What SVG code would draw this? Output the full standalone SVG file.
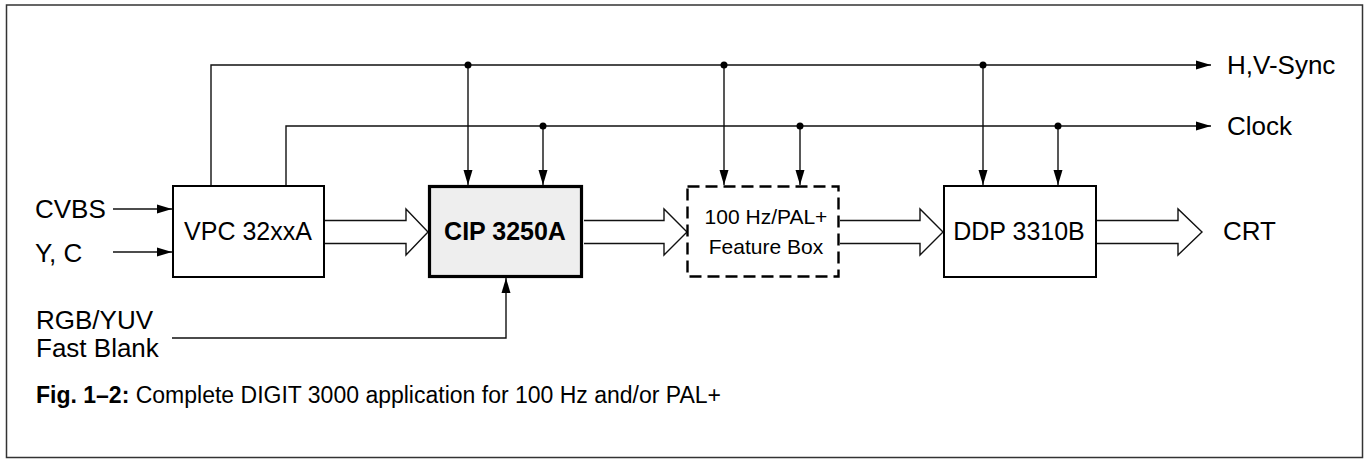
<svg xmlns="http://www.w3.org/2000/svg" width="1371" height="459" viewBox="0 0 1371 459">
<style>
text{font-family:"Liberation Sans",Arial,sans-serif;fill:#000}
.t{font-size:25px}
.l{font-size:26px}
.s{font-size:21px}
.c{font-size:23px}
.box{fill:#fff;stroke:#000;stroke-width:2}
.ln{fill:none;stroke:#111;stroke-width:1.4}
.hol{fill:#fff;stroke:#111;stroke-width:1.4;stroke-linejoin:miter}
.dot{fill:#000}
</style>
<defs>
<marker id="ah" markerUnits="userSpaceOnUse" markerWidth="15" markerHeight="10" refX="15" refY="5" orient="auto">
<path d="M0,0.5 L15,5 L0,9.5 z" fill="#000"/>
</marker>
</defs>
<rect x="6.5" y="5" width="1356" height="452.5" fill="#fff" stroke="#333" stroke-width="1.5"/>

<g id="connectors">
<path class="ln" d="M211,186 V65 H1211" marker-end="url(#ah)"/>
<path class="ln" d="M286,186 V126 H1211" marker-end="url(#ah)"/>
<path class="ln" d="M468,65 V185" marker-end="url(#ah)"/>
<path class="ln" d="M543,126 V185" marker-end="url(#ah)"/>
<path class="ln" d="M724,65 V185" marker-end="url(#ah)"/>
<path class="ln" d="M800,126 V185" marker-end="url(#ah)"/>
<path class="ln" d="M983,65 V185" marker-end="url(#ah)"/>
<path class="ln" d="M1058,126 V185" marker-end="url(#ah)"/>
<circle class="dot" cx="468" cy="65" r="3.5"/>
<circle class="dot" cx="724" cy="65" r="3.5"/>
<circle class="dot" cx="983" cy="65" r="3.5"/>
<circle class="dot" cx="543" cy="126" r="3.5"/>
<circle class="dot" cx="800" cy="126" r="3.5"/>
<circle class="dot" cx="1058" cy="126" r="3.5"/>
<path class="ln" d="M113,209 H172" marker-end="url(#ah)"/>
<path class="ln" d="M113,252 H172" marker-end="url(#ah)"/>
<path class="ln" d="M172,338 H506 V278" marker-end="url(#ah)"/>
<path class="hol" d="M325,220.5 H406 V209 L428,232 L406,255 V243.5 H325"/>
<path class="hol" d="M584,220.5 H664 V209 L687,232 L664,255 V243.5 H584"/>
<path class="hol" d="M840,220.5 H920 V209 L943,232 L920,255 V243.5 H840"/>
<path class="hol" d="M1097,220.5 H1178 V209 L1202,232 L1178,255 V243.5 H1097"/>
</g>

<g id="vpc">
<rect class="box" x="173" y="186" width="151" height="91"/>
<text class="t" x="248" y="240" text-anchor="middle">VPC 32xxA</text>
</g>
<g id="cip">
<rect x="429.5" y="186.5" width="152" height="90" fill="#eee" stroke="#000" stroke-width="3.2"/>
<text class="t" x="505" y="240" text-anchor="middle" font-weight="bold">CIP 3250A</text>
</g>
<g id="feature">
<rect x="687.5" y="186.5" width="151" height="90" fill="#fff" stroke="#000" stroke-width="2.4" stroke-dasharray="12,6"/>
<text class="s" x="766" y="224" text-anchor="middle">100 Hz/PAL+</text>
<text class="s" x="766" y="254" text-anchor="middle">Feature Box</text>
</g>
<g id="ddp">
<rect class="box" x="944" y="186" width="152" height="91"/>
<text class="t" x="1019" y="240" text-anchor="middle">DDP 3310B</text>
</g>
<g id="labels">
<text class="l" x="35" y="218">CVBS</text>
<text class="l" x="35" y="262">Y, C</text>
<text class="l" x="36" y="329">RGB/YUV</text>
<text class="l" x="36" y="357">Fast Blank</text>
<text class="l" x="1227" y="74">H,V-Sync</text>
<text class="l" x="1227" y="135">Clock</text>
<text class="l" x="1223" y="240">CRT</text>
<text class="c" x="36" y="403"><tspan font-weight="bold">Fig. 1–2:</tspan> Complete DIGIT 3000 application for 100 Hz and/or PAL+</text>
</g>
</svg>
